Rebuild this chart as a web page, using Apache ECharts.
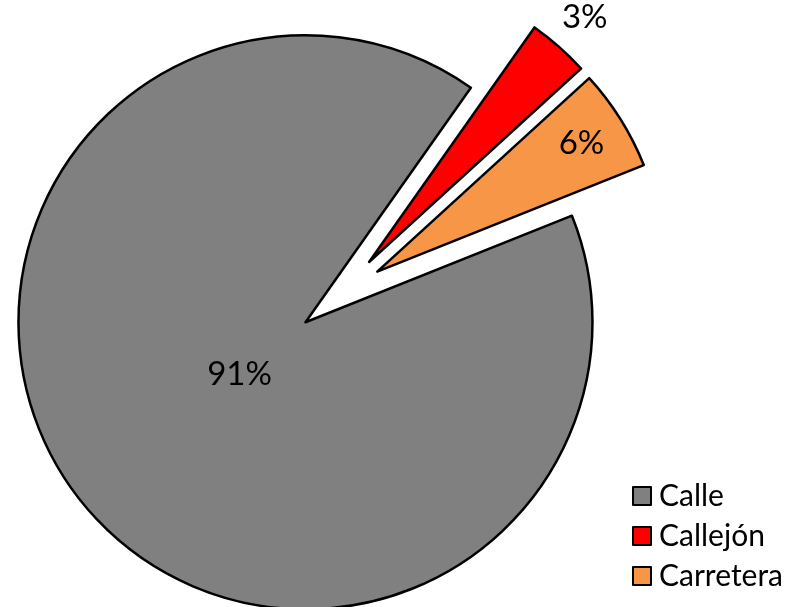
<!DOCTYPE html>
<html>
<head>
<meta charset="utf-8">
<script src="https://cdn.jsdelivr.net/npm/echarts@6/dist/echarts.min.js"></script>
<style>html,body{margin:0;padding:0;background:#fff}#c{width:798px;height:607px}</style>
</head>
<body>
<div id="c"></div>
<script>
const categories = ['Calle', 'Callejón', 'Carretera'];
const values = [90.83, 3.45, 5.72];
const colors = ['#808080', '#FF0000', '#F79646'];
const exploded = [true, true, true];

const FONT = 'Lato';
const CENTER = [340, 295];
const R = 287;
const START = 21.8;
const OFFSET = 44;

function mainData() {
  return categories.map((n, i) => ({
    name: n, value: values[i], selected: exploded[i],
    itemStyle: { color: colors[i] }
  }));
}
function labelData(showIdx) {
  return categories.map((n, i) => ({
    name: n, value: values[i], selected: exploded[i],
    itemStyle: { color: 'rgba(0,0,0,0)', borderWidth: 0 },
    label: { show: i === showIdx }
  }));
}
function labelSeries(showIdx, radius) {
  return {
    type: 'pie', center: CENTER, radius: radius, startAngle: START, clockwise: true,
    selectedMode: 'multiple', selectedOffset: OFFSET, silent: true,
    avoidLabelOverlap: false, percentPrecision: 0,
    label: { position: 'inside', formatter: '{d}%', color: '#000', fontSize: 33, fontFamily: FONT },
    labelLine: { show: false },
    emphasis: { disabled: true },
    data: labelData(showIdx), z: 5
  };
}

const chart = echarts.init(document.getElementById('c'), null, { renderer: 'canvas' });
chart.setOption({
  animation: false,
  backgroundColor: '#fff',
  legend: {
    orient: 'vertical', left: 632, top: 481, padding: 0,
    data: categories,
    icon: 'rect', itemWidth: 18, itemHeight: 18, itemGap: 10,
    textStyle: { color: '#000', fontSize: 30, fontFamily: FONT, lineHeight: 30, padding: [0, 0, 0, 3] },
    selectedMode: false
  },
  series: [
    {
      type: 'pie', center: CENTER, radius: R, startAngle: START, clockwise: true,
      selectedMode: 'multiple', selectedOffset: OFFSET,
      itemStyle: { borderColor: '#000', borderWidth: 2.5 },
      label: { show: false }, labelLine: { show: false },
      emphasis: { disabled: true },
      data: mainData()
    },
    labelSeries(0, [0, 162]),
    labelSeries(1, [287, 359]),
    labelSeries(2, [190, 286])
  ]
});
</script>
</body>
</html>
